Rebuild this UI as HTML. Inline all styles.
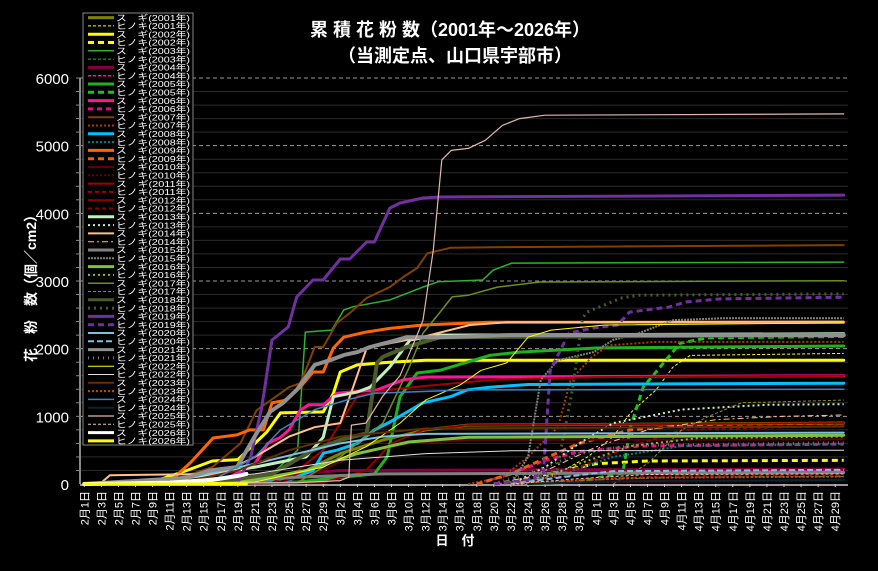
<!DOCTYPE html>
<html><head><meta charset="utf-8"><style>
html,body{margin:0;padding:0;background:#000;width:878px;height:571px;overflow:hidden}
svg{display:block}
text{font-family:"Liberation Sans","Noto Sans CJK JP",sans-serif;fill:#fff}
</style></head><body>
<svg id="chart" width="878" height="571" viewBox="0 0 878 571" xmlns="http://www.w3.org/2000/svg">
<rect x="0" y="0" width="878" height="571" fill="#000"/>
<text x="450" y="36" text-anchor="middle" font-size="18" font-weight="bold">累 積 花 粉 数（2001年～2026年）</text>
<text x="455" y="62" text-anchor="middle" font-size="18" font-weight="bold">（当測定点、山口県宇部市）</text>
<text transform="translate(36,285) rotate(-90)" text-anchor="middle" font-size="14" font-weight="bold">花　粉　数（個／cm2）</text>
<text x="455" y="545" text-anchor="middle" font-size="13" font-weight="bold">日　付</text>
<g id="grid"></g><g id="axes"></g><g id="series"></g><g id="legend"></g>
</svg>
<script>
// ---- data ----
const dayLabels = ["2月1日","2月3日","2月5日","2月7日","2月9日","2月11日","2月13日","2月15日","2月17日","2月19日","2月21日","2月23日","2月25日","2月27日","2月29日","3月2日","3月4日","3月6日","3月8日","3月10日","3月12日","3月14日","3月16日","3月18日","3月20日","3月22日","3月24日","3月26日","3月28日","3月30日","4月1日","4月3日","4月5日","4月7日","4月9日","4月11日","4月13日","4月15日","4月17日","4月19日","4月21日","4月23日","4月25日","4月27日","4月29日"];
const yTicks = [0,1000,2000,3000,4000,5000,6000];
const years = [2001,2002,2003,2004,2005,2006,2007,2008,2009,2010,2011,2012,2013,2014,2015,2016,2017,2018,2019,2020,2021,2022,2023,2024,2025,2026];
// each series: [dayIndex, cumulative value] (day 0 = Feb 1)
const s2001sugi=[[0,0],[20,20],[26,200],[30,450],[35,650],[40,800],[45,870],[89,900]];
const s2001hino=[[50,0],[55,120],[59,400],[62,700],[64,1050],[67,1390],[69,1730],[71,1900],[89,1930]];
const s2002sugi=[[0,0],[8,30],[12,200],[15,340],[18,360],[20,600],[21.4,770],[23,1050],[28,1065],[29.2,1340],[30,1655],[32,1760],[35.8,1800],[40,1830],[89,1830]];
const s2002hino=[[48,0],[52,80],[56,200],[60,300],[66,340],[89,350]];
const s2003sugi=[[0,0],[15,20],[22,150],[25,500],[25.9,2245],[29,2275],[30.4,2570],[31.5,2620],[35.8,2720],[39.7,2910],[41.5,2990],[46.7,3015],[47.9,3160],[50.1,3265],[89,3280]];
const s2003hino=[[50,0],[60,60],[70,100],[89,110]];
const s2004sugi=[[0,0],[20,20],[25,150],[30,200],[89,220]];
const s2004hino=[[48,0],[55,100],[62,180],[89,200]];
const s2005sugi=[[0,0],[25,30],[34,150],[35.5,400],[37,1290],[39,1640],[41.7,1680],[47.5,1900],[51,1950],[60,2010],[89,2040]];
const s2005hino=[[52,0],[58,40],[63.1,160],[64,840],[65.5,1430],[67.5,1730],[69.8,2080],[73,2160],[89,2180]];
const s2006sugi=[[0,0],[12,10],[17,100],[20,300],[21.5,600],[23,690],[24,800],[25.3,1090],[26.3,1170],[28,1170],[29.6,1340],[34.3,1390],[37.4,1540],[40,1580],[89,1600]];
const s2006hino=[[46,0],[50,150],[54,350],[58,480],[65,560],[89,590]];
const s2007sugi=[[0,0],[10,40],[15,250],[18.3,600],[20.2,1090],[24,1430],[25.3,1490],[26.1,1730],[27,2025],[28,2025],[29.6,2380],[31.1,2525],[33.1,2750],[35.8,2910],[37.4,3060],[39,3190],[40.2,3410],[42.9,3490],[48,3500],[89,3530]];
const s2007hino=[[45,0],[49,100],[52,400],[55.5,840],[57,1540],[59.5,1880],[61.5,2050],[67,2100],[89,2100]];
const s2008sugi=[[0,0],[15,20],[24,60],[26.8,200],[28,455],[29.6,500],[32,600],[34,800],[35.8,915],[39.7,1200],[42.9,1290],[44.9,1390],[47.5,1430],[52,1470],[89,1490]];
const s2008hino=[[50,0],[56,150],[62,400],[70,560],[89,590]];
const s2009sugi=[[0,0],[10,10],[11,150],[12.4,310],[13.8,500],[15.1,680],[17.9,725],[19.4,800],[21,800],[22,1200],[23.7,1240],[25.3,1430],[26.8,1655],[28,1655],[29.2,2010],[30.4,2170],[33,2245],[35.8,2300],[39.7,2350],[47.5,2390],[89,2390]];
const s2009hino=[[46,0],[50,150],[54,380],[58,600],[64,800],[72,880],[89,900]];
const s2010sugi=[[0,0],[22,10],[27,150],[32,450],[38,600],[45,650],[89,660]];
const s2010hino=[[50,0],[60,30],[89,50]];
const s2011sugi=[[0,0],[22,20],[25,200],[28,500],[30,900],[32,1300],[35,1380],[40,1450],[48,1540],[60,1580],[89,1600]];
const s2011hino=[[52,0],[60,80],[70,120],[89,130]];
const s2012sugi=[[0,0],[28,20],[33,200],[36,600],[39.7,800],[45,870],[89,900]];
const s2012hino=[[52,0],[58,250],[64,550],[70,800],[89,860]];
const s2013sugi=[[0,0],[10,50],[20,250],[26,400],[28,690],[29.2,1290],[32,1360],[33.5,1430],[35.8,1730],[38.2,2130],[41.7,2200],[89,2220]];
const s2013hino=[[50,0],[54,250],[58,600],[62,900],[70,1100],[80,1170],[89,1180]];
const s2014sugi=[[0,0],[2,20],[3,130],[16,150],[20,400],[24,700],[27,840],[30,900],[31.5,1430],[33.1,2010],[35.8,2080],[39.7,2175],[45.2,2350],[49.5,2390],[89,2400]];
const s2014hino=[[50,0],[55,250],[60,550],[66,800],[74,950],[82,1000],[89,1020]];
const s2015sugi=[[0,0],[15,20],[25,100],[35,150],[89,170]];
const s2015hino=[[50,0],[52,400],[53.5,1540],[55.5,1830],[59.7,1950],[62,2130],[65,2230],[69,2420],[75,2450],[89,2450]];
const s2016sugi=[[0,0],[18,20],[26,200],[32,450],[38,620],[45,690],[89,720]];
const s2016hino=[[52,0],[58,300],[64,560],[72,680],[89,700]];
const s2017sugi=[[0,0],[25,20],[30,400],[35,900],[38,1700],[39.7,2230],[41.7,2540],[43.1,2765],[45,2790],[48.4,2910],[53.4,2985],[89,3005]];
const s2017hino=[[62,0],[66,300],[70,800],[73,990],[77,1200],[89,1240]];
const s2018sugi=[[0,0],[15,20],[22,150],[26.8,500],[30,650],[33.1,750],[34.3,1790],[35,1880],[37.8,2025],[41.7,2170],[89,2200]];
const s2018hino=[[50,0],[53,100],[55.4,210],[57.2,1390],[57.8,1935],[58.4,2450],[58.9,2540],[63,2750],[65,2790],[89,2810]];
const s2019sugi=[[0,0],[18,20],[19.5,400],[20.8,1138],[22,2128],[23.9,2320],[24.9,2764],[26.8,3015],[28,3015],[30,3325],[31.1,3325],[33.1,3576],[34,3576],[35.8,4078],[37,4152],[39.7,4226],[41.7,4241],[89,4270]];
const s2019hino=[[48,0],[52,60],[53.8,160],[54.6,1680],[56.8,2230],[59.7,2305],[62.5,2350],[63.9,2540],[68.5,2615],[70.5,2690],[74.5,2735],[89,2760]];
const s2020sugi=[[0,0],[10,30],[20,300],[30,600],[35,700],[40,740],[89,760]];
const s2020hino=[[50,0],[56,100],[62,190],[89,210]];
const s2021sugi=[[0,0],[4,30],[8,60],[12,90],[14.7,200],[17.9,250],[20.2,750],[21.8,1070],[23.3,1200],[24.9,1390],[27,1760],[28.8,1830],[30.4,1905],[32,1950],[33.5,2025],[35.8,2100],[37.8,2170],[41.7,2170],[50,2200],[89,2200]];
const s2021hino=[[48,0],[53,200],[58,450],[64,570],[89,610]];
const s2022sugi=[[0,0],[20,30],[28,250],[33,550],[37,900],[40,1240],[44,1460],[46.5,1680],[49.5,1790],[52,2170],[54.7,2275],[61,2350],[89,2380]];
const s2022hino=[[0,0],[10,30],[20,150],[30,350],[40,450],[50,490],[89,500]];
const s2023sugi=[[0,0],[12,40],[18,200],[24,500],[30,700],[40,820],[89,850]];
const s2023hino=[[50,0],[56,40],[64,90],[89,110]];
const s2024sugi=[[0,0],[15,50],[20,400],[23,800],[27,1100],[31,1250],[34,1340],[45,1390],[89,1400]];
const s2024hino=[[52,0],[62,40],[89,60]];
const s2025sugi=[[0,0],[25,20],[30,50],[31,100],[31.3,870],[33,900],[35,1300],[37,1600],[39,2200],[39.7,2420],[40.9,3460],[41.9,4790],[43,4930],[45,4960],[47,5080],[49,5300],[51,5400],[54,5450],[89,5470]];
const s2025hino=[[50,0],[58,80],[66,140],[89,150]];
const s2026sugi=[[0,0],[6,10],[10,20],[15,60],[18,120],[19,150]];
const s2026hino=[[0,0],[19,0]];
const seriesList=[s2001sugi,s2001hino,s2002sugi,s2002hino,s2003sugi,s2003hino,s2004sugi,s2004hino,s2005sugi,s2005hino,s2006sugi,s2006hino,s2007sugi,s2007hino,s2008sugi,s2008hino,s2009sugi,s2009hino,s2010sugi,s2010hino,s2011sugi,s2011hino,s2012sugi,s2012hino,s2013sugi,s2013hino,s2014sugi,s2014hino,s2015sugi,s2015hino,s2016sugi,s2016hino,s2017sugi,s2017hino,s2018sugi,s2018hino,s2019sugi,s2019hino,s2020sugi,s2020hino,s2021sugi,s2021hino,s2022sugi,s2022hino,s2023sugi,s2023hino,s2024sugi,s2024hino,s2025sugi,s2025hino,s2026sugi,s2026hino];
// styles: [color, width, dash]
const styles=[["#808000",3,""],["#ffff00",1,"3,2"],["#ffff00",3,""],["#ffff00",3,"6,4"],["#30b030",1.5,""],["#30b030",1,"3,2"],["#800040",3,""],["#ff1493",1.5,"3,2"],["#20b020",3,""],["#20c020",3,"6,4"],["#ff1493",3,""],["#e01080",3,"5,4"],["#804000",2,""],["#a04000",2,"2,2"],["#00c0ff",3,""],["#008080",2,"2,2"],["#ff6600",3,""],["#e06010",3,"6,4"],["#600000",2,""],["#600000",2,"2,2"],["#a00000",2,""],["#a00000",2,"4,3"],["#900000",2,""],["#900000",2,"4,3"],["#c0f0c0",3,""],["#c0f0c0",2,"2,3"],["#ffc090",2,""],["#ffc090",1,"6,3,2,3"],["#808080",3,""],["#808080",2,"2,1"],["#80c040",3,""],["#80c040",2,"2,3"],["#6b8e23",1.5,""],["#909020",1,"3,2"],["#4c5a2a",4,""],["#4c5a2a",3,"2,4"],["#7030a0",3,""],["#7030a0",3,"6,4"],["#80c0e0",2,""],["#80c0e0",2,"6,3"],["#909090",4,""],["#707070",3,"1,4"],["#ffff00",1,""],["#e0e0e0",1,""],["#603000",2,""],["#c05000",2,"2,2"],["#4080c0",1.5,""],["#102030",2,""],["#e0b8b0",1.2,""],["#f0c0c0",1,"3,2"],["#ffffff",4,""],["#ffff00",3,""]];
// ---- scales ----
const X0=80,X1=848,Y0=484,YTOP=78,NDAYS=90,VMAX=6000;
function xScale(d){return X0+(d+0.5)*(X1-X0)/NDAYS;}
function yScale(v){return Y0-v*(Y0-YTOP)/VMAX;}
const NS="http://www.w3.org/2000/svg";
function mk(tag,attrs,parent){const e=document.createElementNS(NS,tag);for(const k in attrs)e.setAttribute(k,attrs[k]);parent.appendChild(e);return e;}
const grid=document.getElementById('grid'),axes=document.getElementById('axes'),ser=document.getElementById('series'),leg=document.getElementById('legend');
for(let v=200;v<=VMAX;v+=200){
  const major=v%1000===0;
  const l=mk('line',{x1:X0,x2:X1,y1:yScale(v),y2:yScale(v),stroke:major?'#9a9a9a':'#2a2a2a','stroke-width':1,'stroke-dasharray':major?'4,3':''},grid);
  
  
  const t=mk('line',{x1:X0-4,x2:X0,y1:yScale(v),y2:yScale(v),stroke:'#888','stroke-width':1},axes);
  
  
}
yTicks.forEach(v=>{
  const t=mk('text',{x:69,y:yScale(v)+6,'text-anchor':'end','font-size':15},axes);
  t.textContent=v;
  
  
});
const ya=mk('line',{x1:X0,x2:X0,y1:YTOP,y2:Y0,stroke:'#888','stroke-width':2},axes);


const xa=mk('line',{x1:X0,x2:X1,y1:Y0+1,y2:Y0+1,stroke:'#999','stroke-width':2},axes);


dayLabels.forEach((lab,i)=>{
  const d=i*2;
  const x=xScale(d);
  const tk=mk('line',{x1:x,x2:x,y1:Y0,y2:Y0+3,stroke:'#ccc','stroke-width':1},axes);
  
  
  const t=mk('text',{transform:`translate(${x+4},${491}) rotate(-90)`,'text-anchor':'end','font-size':11},axes);
  t.textContent=lab;
  
  
});
seriesList.forEach((s,i)=>{
  const pts=s.map(p=>xScale(p[0]).toFixed(1)+','+yScale(p[1]).toFixed(1)).join(' ');
  const st=styles[i];
  const pl=mk('polyline',{points:pts,fill:'none',stroke:st[0],'stroke-width':st[1],'stroke-dasharray':st[2],'stroke-linejoin':'round','stroke-linecap':st[2]?'butt':'round'},ser);
  
  
});
const lb=mk('rect',{x:83,y:13,width:110,height:432,fill:'#000',stroke:'#888','stroke-width':1},leg);


seriesList.forEach((s,i)=>{
  const y=17.6+i*8.3;
  const st=styles[i];
  const g=mk('g',{},leg);
  
  
  mk('line',{x1:88,x2:114,y1:y,y2:y,stroke:st[0],'stroke-width':Math.min(st[1],3),'stroke-dasharray':st[2]},g);
  const t=mk('text',{x:116,y:y+3.2,'font-size':8.5,textLength:74,lengthAdjust:'spacingAndGlyphs'},g);
  t.textContent=(i%2?'ヒノキ':'ス　ギ')+'(' +years[Math.floor(i/2)]+'年)';
});
</script>
</body></html>
